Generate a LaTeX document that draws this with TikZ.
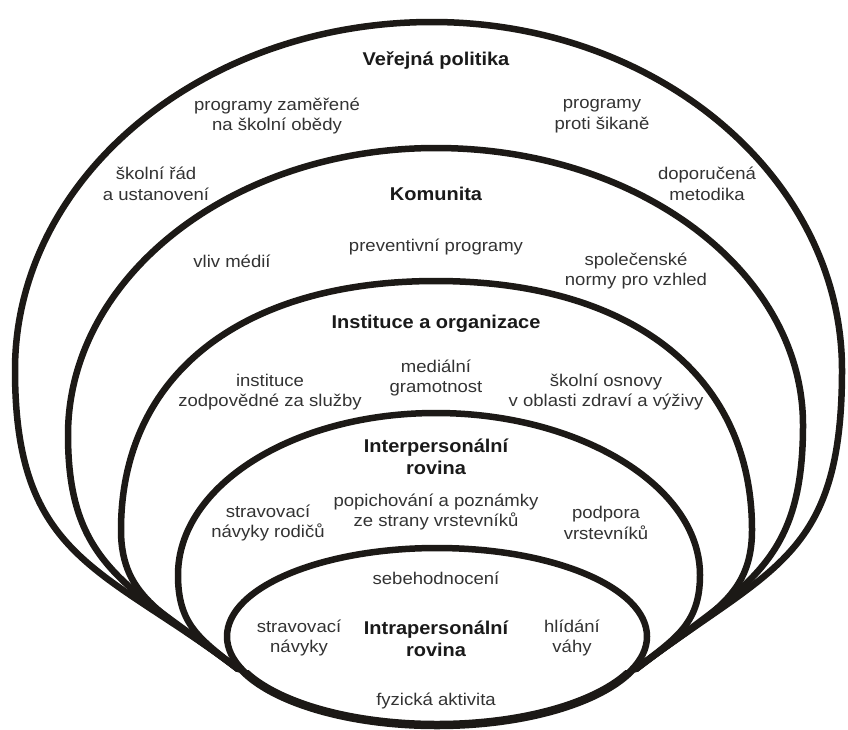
\documentclass[tikz,border=0pt]{standalone}
\usepackage{fontspec}
\setmainfont{Liberation Sans}[FakeStretch=1.09]
\newfontfamily\ttlfont{Liberation Sans}[FakeStretch=1.08]
\definecolor{linec}{HTML}{1C1916}
\definecolor{txtc}{HTML}{333333}
\definecolor{ttlc}{HTML}{1A1A1A}
\begin{document}
\begin{tikzpicture}[x=1pt,y=-1pt,
  ring/.style={draw=linec, line width=6.5pt, line join=round, line cap=round},
  lbl/.style={text=txtc, font=\fontsize{17}{20.5}\selectfont, align=center, inner sep=0pt},
  ttl/.style={text=ttlc, font=\ttlfont\fontsize{18.5}{22}\selectfont\bfseries, align=center, inner sep=0pt}]
\useasboundingbox (0,0) rectangle (848,729);
\fill[white] (0,0) rectangle (848,729);

% Verejna politika (outer)
\draw[ring] (238,669) .. controls (104,567) and (15,560) .. (15,370)
  .. controls (15,178) and (202,22) .. (432,22)
  .. controls (658,22) and (842,178) .. (842,370)
  .. controls (842,560) and (770,567) .. (636,669);
% Komunita
\draw[ring] (238,669) .. controls (128,585) and (68,565) .. (68,435)
  .. controls (68,276.5) and (232.8,148) .. (436,148)
  .. controls (638.7,148) and (803,272) .. (803,425)
  .. controls (803,565) and (746,585) .. (636,669);
% Instituce
\draw[ring] (238,669) .. controls (168,615) and (121,600) .. (121,530)
  .. controls (121,375.6) and (240.7,281) .. (436,281)
  .. controls (632,281) and (752,375.6) .. (752,530)
  .. controls (752,600) and (706,615) .. (636,669);
% Interpersonal
\draw[ring] (238,669) .. controls (200,639) and (178,625) .. (178,575)
  .. controls (178,485.5) and (293.5,413) .. (436,413)
  .. controls (578.5,413) and (700,485.5) .. (700,575)
  .. controls (700,625) and (674,639) .. (636,669);
% Intrapersonal (inner)
\draw[ring] (437,636.5) ellipse [x radius=210, y radius=88.5];
\begin{scope}
  \clip (200,670) rectangle (680,740);
  \draw[ring, line width=8.5pt] (437,636.5) ellipse [x radius=210, y radius=88.5];
\end{scope}

% texts
\node[ttl] (vp) at (436,61) {Veřejná politika};
\node[lbl] (obedy) at (277,116) {programy zaměřené\\na školní obědy};
\node[lbl] (sikana) at (602,116) {programy\\proti šikaně};
\node[lbl] (rad) at (156,184) {školní řád\\a ustanovení};
\node[lbl] (metod) at (707,184) {doporučená\\metodika};

\node[ttl] (kom) at (436,194) {Komunita};
\node[lbl] (media) at (232,261) {vliv médií};
\node[lbl] (prev) at (436,247) {preventivní programy};
\node[lbl] (normy) at (636,271) {společenské\\normy pro vzhled};

\node[ttl] (inst) at (436,324) {Instituce a organizace};
\node[lbl] (sluzby) at (270,392) {instituce\\zodpovědné za služby};
\node[lbl] (gram) at (436,378) {mediální\\gramotnost};
\node[lbl] (osnovy) at (606,392) {školní osnovy\\v oblasti zdraví a výživy};

\node[ttl] (inter) at (436,457) {Interpersonální\\rovina};
\node[lbl] (rodice) at (268,523) {stravovací\\návyky rodičů};
\node[lbl] (popich) at (436,512) {popichování a poznámky\\ze strany vrstevníků};
\node[lbl] (podpora) at (606,523) {podpora\\vrstevníků};

\node[lbl] (sebe) at (436,578) {sebehodnocení};
\node[lbl] (navyky) at (299,638) {stravovací\\návyky};
\node[ttl] (intra) at (436,639) {Intrapersonální\\rovina};
\node[lbl] (vaha) at (572,638) {hlídání\\váhy};
\node[lbl] (fyz) at (436,701) {fyzická aktivita};
\end{tikzpicture}
\end{document}
